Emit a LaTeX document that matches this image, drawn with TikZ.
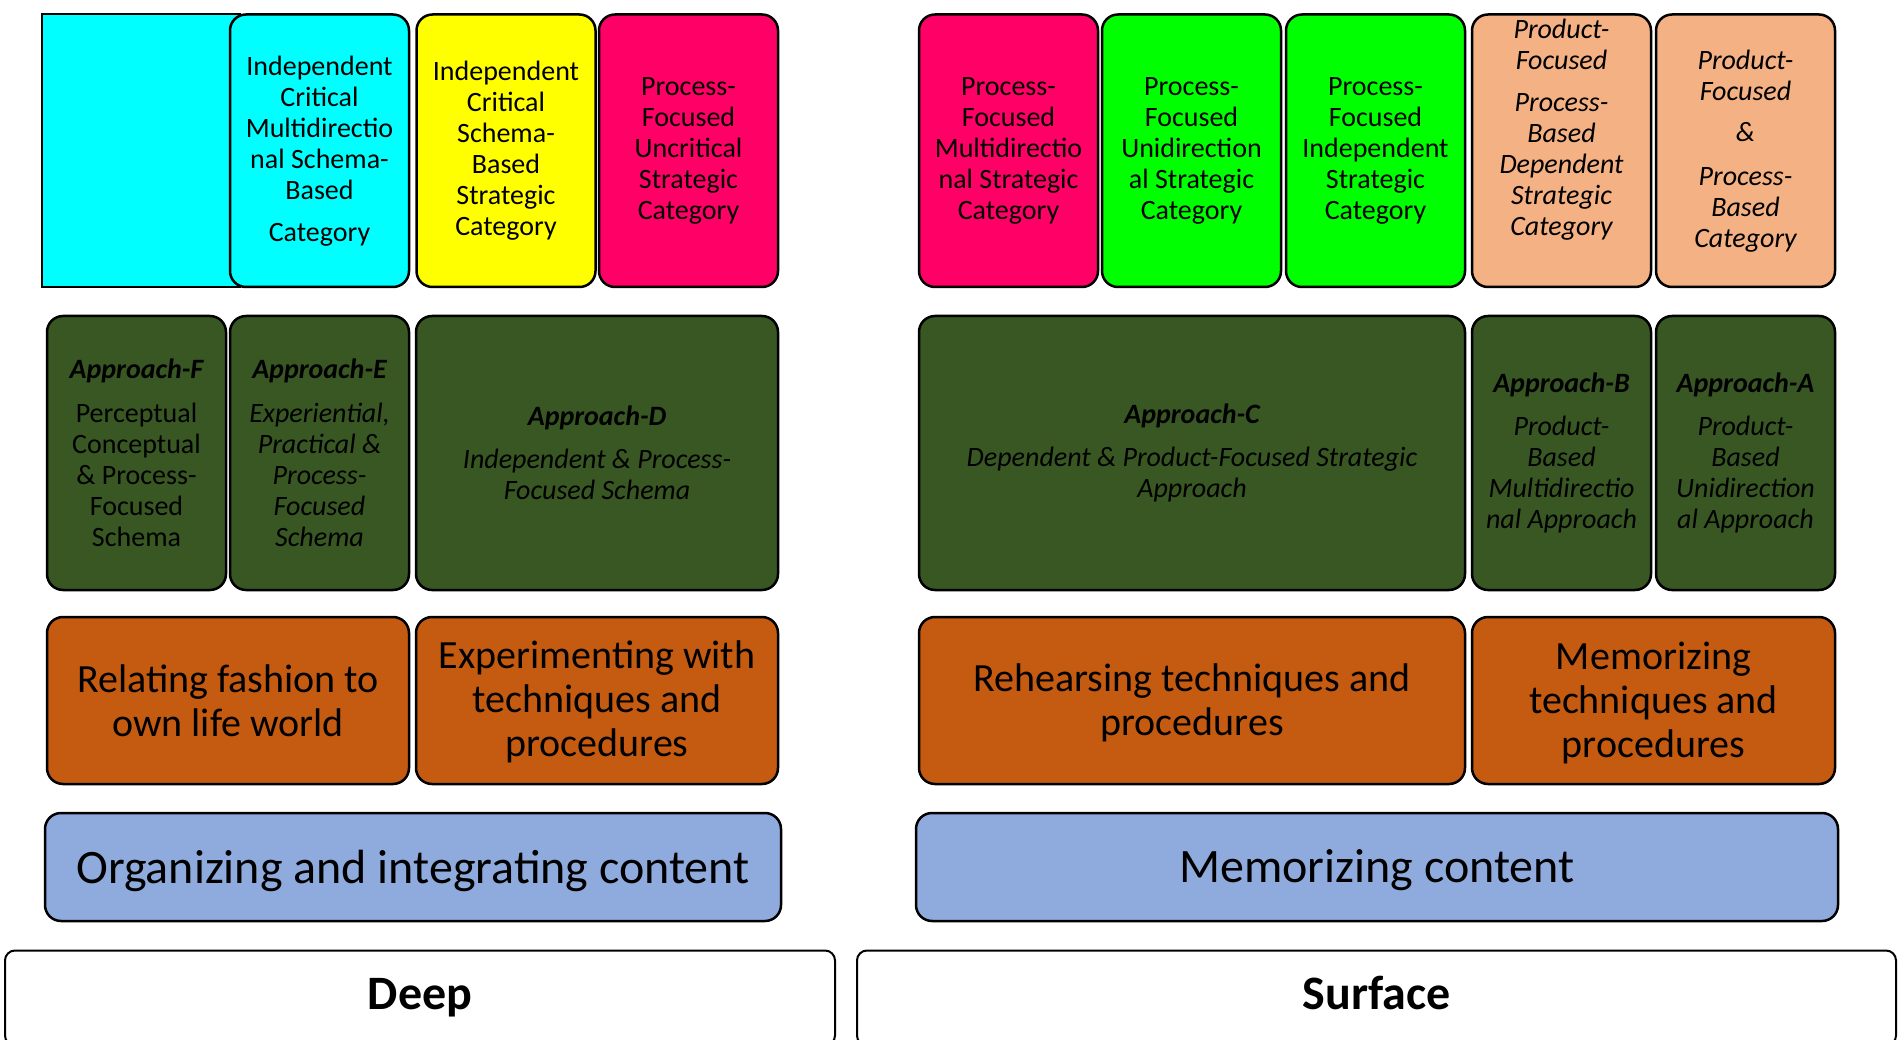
\documentclass[tikz,border=0pt]{standalone}
\usepackage{fontspec}
\setmainfont{Carlito}
\definecolor{cyanC}{HTML}{00FFFF}
\definecolor{yellowC}{HTML}{FFFF00}
\definecolor{pinkC}{HTML}{FF0066}
\definecolor{greenC}{HTML}{00FF00}
\definecolor{peachC}{HTML}{F4B183}
\definecolor{darkgreenC}{HTML}{385723}
\definecolor{orangeC}{HTML}{C55A11}
\definecolor{blueC}{HTML}{8FAADC}
\newcommand{\lowerby}[2]{\raisebox{-#1}[\height][\depth]{#2}}
\begin{document}
\begin{tikzpicture}[x=1pt,y=-1pt,
  box/.style={draw=black, line width=2.5pt, rounded corners=16pt, inner sep=0pt, outer sep=0pt, align=center},
  cat/.style={box, minimum width=179pt, minimum height=272.5pt, font=\fontsize{28}{31}\selectfont},
  appr/.style={box, fill=darkgreenC, minimum height=274pt, font=\fontsize{28}{31}\selectfont},
  act/.style={box, fill=orangeC, minimum height=167pt, font=\fontsize{40}{44}\selectfont},
  proc/.style={box, fill=blueC, minimum height=108pt, font=\fontsize{48}{56}\selectfont},
  level/.style={box, fill=white, line width=2pt, rounded corners=10pt, minimum height=95pt, text height=33pt, text depth=10pt, font=\bfseries\fontsize{48}{56}\selectfont},
  txt/.style={inner sep=0pt, align=center, font=\itshape\fontsize{28}{31}\selectfont}
]
\useasboundingbox (0,0) rectangle (1898,1040);

% top row: categories
\node[draw=black, line width=2pt, fill=cyanC, inner sep=0pt, minimum width=198pt, minimum height=272.5pt] (cyanbg) at (141,150.75) {};
\node[cat, fill=cyanC] (c1) at (319.5,150.75) {Independent\\Critical\\Multidirectio\\nal Schema-\\Based\\[11pt]Category};
\node[cat, fill=yellowC] (c2) at (506,150.75) {Independent\\Critical\\Schema-\\Based\\Strategic\\Category};
\node[cat, fill=pinkC] (c3) at (688.5,150.75) {Process-\\Focused\\Uncritical\\Strategic\\Category};
\node[cat, fill=pinkC] (c4) at (1008.5,150.75) {Process-\\Focused\\Multidirectio\\nal Strategic\\Category};
\node[cat, fill=greenC] (c5) at (1191.5,150.75) {Process-\\Focused\\Unidirection\\al Strategic\\Category};
\node[cat, fill=greenC] (c6) at (1375.5,150.75) {Process-\\Focused\\Independent\\Strategic\\Category};
\node[cat, fill=peachC] (c7) at (1561.5,150.75) {};
\node[txt] (c7t) at (1561.5,129.5) {Product-\\Focused\\[11pt]Process-\\Based\\Dependent\\Strategic\\Category};
\node[cat, fill=peachC, font=\itshape\fontsize{28}{31}\selectfont] (c8) at (1745.5,150.75) {Product-\\Focused\\[10pt]\&\\[13pt]Process-\\Based\\Category};

% second row: approaches
\node[appr, minimum width=179pt] (aF) at (136.5,453) {{\bfseries\itshape Approach-F}\\[13pt]Perceptual\\Conceptual\\\& Process-\\Focused\\Schema};
\node[appr, minimum width=179pt, font=\itshape\fontsize{28}{31}\selectfont] (aE) at (319.5,453) {{\bfseries Approach-E}\\[13pt]Experiential,\\Practical \&\\Process-\\Focused\\Schema};
\node[appr, minimum width=362pt, font=\itshape\fontsize{28}{31}\selectfont] (aD) at (597,453) {{\bfseries Approach-D}\\[12pt]Independent \& Process-\\Focused Schema};
\node[appr, minimum width=546pt, font=\itshape\fontsize{28}{31}\selectfont] (aC) at (1192,453) {{\bfseries Approach-C}\\[12pt]Dependent \& Product-Focused Strategic\\Approach};
\node[appr, minimum width=179pt, font=\itshape\fontsize{28}{31}\selectfont] (aB) at (1561.5,453) {{\bfseries Approach-B}\\[12pt]Product-\\Based\\Multidirectio\\nal Approach};
\node[appr, minimum width=179pt, font=\itshape\fontsize{28}{31}\selectfont] (aA) at (1745.5,453) {{\bfseries Approach-A}\\[12pt]Product-\\Based\\Unidirection\\al Approach};

% third row: activities
\node[act, minimum width=362pt] (r1) at (228,700.5) {Relating fashion to\\own life world};
\node[act, minimum width=362pt] (r2) at (597,700.5) {\lowerby{1pt}{Experimenting with}\\\lowerby{1pt}{techniques and}\\\lowerby{1pt}{procedures}};
\node[act, minimum width=546pt] (r3) at (1192,700.5) {\lowerby{2.5pt}{Rehearsing techniques and}\\\lowerby{2.5pt}{procedures}};
\node[act, minimum width=363pt] (r4) at (1653.5,700.5) {\lowerby{2.5pt}{Memorizing}\\\lowerby{2.5pt}{techniques and}\\\lowerby{2.5pt}{procedures}};

% fourth row: processing
\node[proc, minimum width=736pt] (p1) at (413,867) {\lowerby{3.5pt}{Organizing and integrating content}};
\node[proc, minimum width=922pt] (p2) at (1377,867) {\lowerby{3.5pt}{Memorizing content}};

% bottom: levels
\node[level, minimum width=830pt] (deep) at (420,998) {Deep};
\node[level, minimum width=1039pt] (surf) at (1376.5,998) {Surface};
\end{tikzpicture}
\end{document}
